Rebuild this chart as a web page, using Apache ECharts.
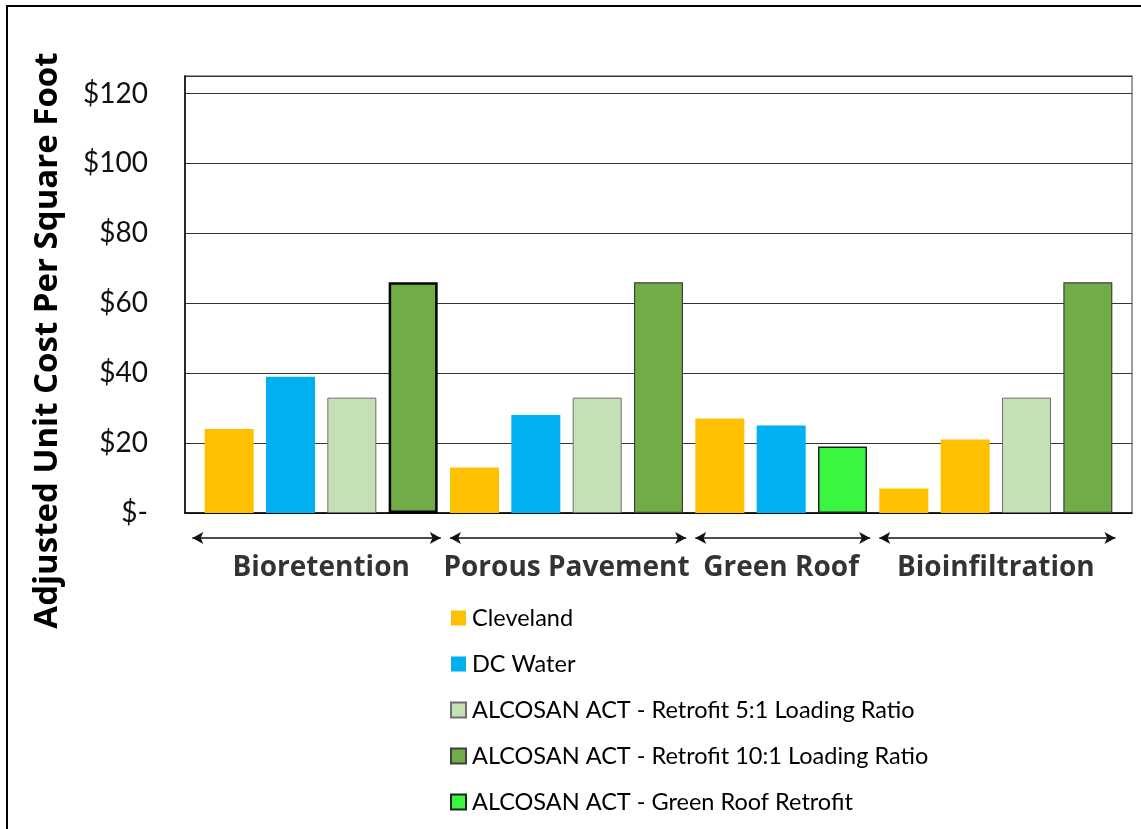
<!DOCTYPE html>
<html>
<head>
<meta charset="utf-8">
<script src="https://cdn.jsdelivr.net/npm/echarts@6/dist/echarts.min.js"></script>
<style>
  html, body { margin: 0; padding: 0; background: #fff; }
  #chart { width: 1141px; height: 829px; }
  .frame {
    position: absolute; left: 6px; top: 5px; right: 0; bottom: 0;
    border-left: 2.5px solid #000; border-top: 2.5px solid #000;
    pointer-events: none;
  }
</style>
</head>
<body>
<div id="chart"></div>
<div class="frame"></div>
<script>
  // groups along the x axis and how many bar slots each takes
  const groups = ['Bioretention', 'Porous Pavement', 'Green Roof', 'Bioinfiltration'];
  const groupSizes = [4, 4, 3, 4];

  const seriesNames = [
    'Cleveland',
    'DC Water',
    'ALCOSAN ACT - Retrofit 5:1 Loading Ratio',
    'ALCOSAN ACT - Retrofit 10:1 Loading Ratio',
    'ALCOSAN ACT - Green Roof Retrofit'
  ];

  // one value per bar slot (15 slots), null where the series has no bar
  const cleveland  = [24, null, null, null, 13, null, null, null, 27, null, null, 7, null, null, null];
  const dcWater    = [null, 39, null, null, null, 28, null, null, null, 25, null, null, 21, null, null];
  const retrofit5  = [null, null, 33, null, null, null, 33, null, null, null, null, null, null, 33, null];
  const retrofit10 = [null, null, null, 66, null, null, null, 66, null, null, null, null, null, null, 66];
  const greenRoof  = [null, null, null, null, null, null, null, null, null, null, 19, null, null, null, null];

  const yTicks = [0, 20, 40, 60, 80, 100, 120];

  const FONT = 'Lato, "Open Sans", sans-serif';
  const BOLD_FONT = '"Open Sans", Lato, sans-serif';

  function toPoints(arr, overrides) {
    const out = [];
    arr.forEach((v, i) => {
      if (v === null) return;
      const item = { value: [i + 0.5, v] };
      if (overrides && overrides[i]) item.itemStyle = overrides[i];
      out.push(item);
    });
    return out;
  }

  // group spans in slot units
  const spans = [];
  let start = 0;
  groupSizes.forEach((n, gi) => {
    spans.push({ name: groups[gi], from: start, to: start + n });
    start += n;
  });

  const chart = echarts.init(document.getElementById('chart'));

  const barBase = {
    type: 'bar',
    barWidth: 49,
    barGap: '-100%',
    xAxisIndex: 0,
    yAxisIndex: 0,
    animation: false
  };

  const option = {
    backgroundColor: '#fff',
    textStyle: { fontFamily: FONT },
    grid: [
      { left: 185, top: 76, width: 947, height: 437, show: true, borderColor: '#7f7f7f', borderWidth: 1.5 },
      { left: 185, top: 528, width: 947, height: 60 }
    ],
    xAxis: [
      {
        type: 'value', gridIndex: 0, min: -0.22, max: 15.22,
        axisLine: { show: true, onZero: false, lineStyle: { color: '#000', width: 1.5 } },
        axisTick: { show: false },
        axisLabel: { show: false },
        splitLine: { show: false }
      },
      { type: 'value', gridIndex: 1, min: -0.22, max: 15.22, show: false, splitLine: { show: false } }
    ],
    yAxis: [
      {
        type: 'value', gridIndex: 0, min: 0, max: 125, interval: 20,
        name: 'Adjusted Unit Cost Per Square Foot',
        nameLocation: 'middle',
        nameGap: 121,
        nameTextStyle: {
          fontSize: 33, fontWeight: 'bold', color: '#000', fontFamily: BOLD_FONT,
          padding: [0, 92, 0, 0]
        },
        axisLine: { show: true, onZero: false, lineStyle: { color: '#000', width: 1.5 } },
        axisTick: { show: false },
        axisLabel: {
          margin: 37,
          fontSize: 28,
          color: '#111',
          fontFamily: FONT,
          formatter: v => (yTicks.indexOf(v) < 0 ? '' : (v === 0 ? '$-' : '$' + v))
        },
        splitLine: { show: true, lineStyle: { color: '#333', width: 1.2 } }
      },
      { type: 'value', gridIndex: 1, min: 0, max: 6, show: false, splitLine: { show: false } }
    ],
    legend: {
      orient: 'vertical',
      left: 445,
      top: 601,
      itemWidth: 15,
      itemHeight: 15,
      itemGap: 22,
      icon: 'rect',
      textStyle: { fontSize: 23.5, color: '#000', fontFamily: FONT, padding: [0, 0, 0, 1] },
      data: seriesNames
    },
    series: [
      Object.assign({}, barBase, {
        name: seriesNames[0],
        itemStyle: { color: '#FFC000' },
        data: toPoints(cleveland)
      }),
      Object.assign({}, barBase, {
        name: seriesNames[1],
        itemStyle: { color: '#00B0F0' },
        data: toPoints(dcWater, { 12: { color: '#FFC000' } })
      }),
      Object.assign({}, barBase, {
        name: seriesNames[2],
        itemStyle: { color: '#C5E0B4', borderColor: '#6f6f6f', borderWidth: 1 },
        data: toPoints(retrofit5)
      }),
      Object.assign({}, barBase, {
        name: seriesNames[3],
        itemStyle: { color: '#70AD47', borderColor: '#404040', borderWidth: 1.2 },
        data: toPoints(retrofit10, { 3: { color: '#70AD47', borderColor: '#000', borderWidth: 2.5 } })
      }),
      Object.assign({}, barBase, {
        name: seriesNames[4],
        itemStyle: { color: '#3BF53F', borderColor: '#222', borderWidth: 1.5 },
        data: toPoints(greenRoof)
      }),
      {
        // group labels and the double-headed arrows under the plot
        type: 'scatter',
        xAxisIndex: 1,
        yAxisIndex: 1,
        symbolSize: 0,
        silent: true,
        animation: false,
        data: spans.map(s => ({ value: [(s.from + s.to) / 2, 2], name: s.name })),
        label: {
          show: true,
          position: 'inside',
          formatter: p => p.name,
          fontSize: 28,
          fontWeight: 'bold',
          color: '#000',
          textBorderWidth: 0,
          fontFamily: BOLD_FONT
        },
        markLine: {
          silent: true,
          animation: false,
          symbol: ['arrow', 'arrow'],
          symbolSize: [9, 11],
          label: { show: false },
          lineStyle: { type: 'solid', color: '#111', width: 1.5 },
          data: spans.map((s, i) => [
            { coord: [s.from + (i === 0 ? -0.1 : 0.1), 5] },
            { coord: [s.to - 0.05, 5] }
          ])
        }
      }
    ]
  };

  chart.setOption(option);
</script>
</body>
</html>
